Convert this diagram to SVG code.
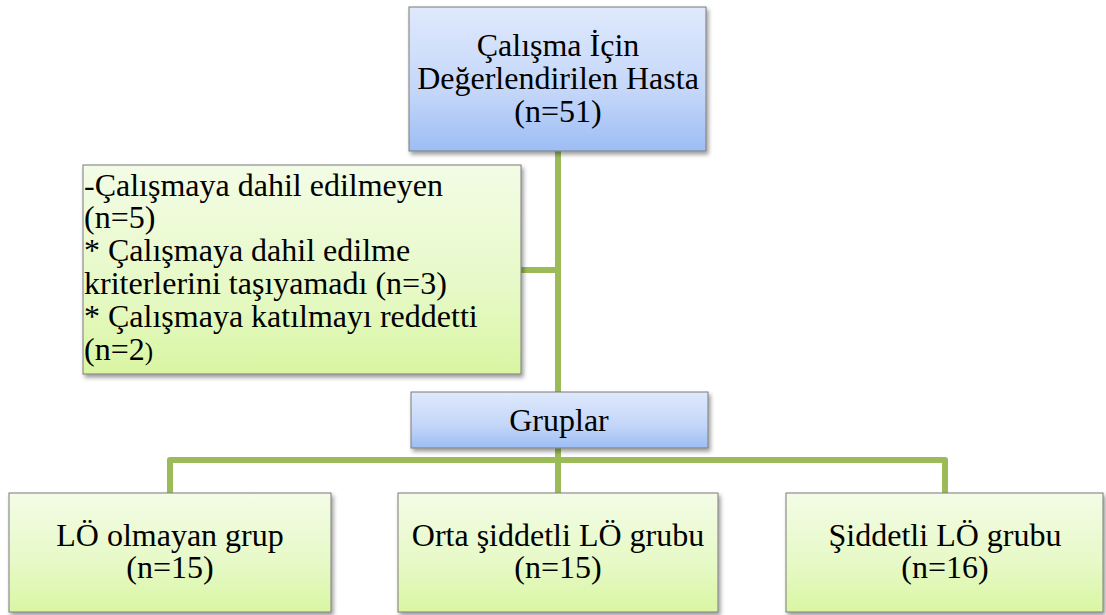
<svg xmlns="http://www.w3.org/2000/svg" width="1106" height="615" viewBox="0 0 1106 615">
<style>
.t{font-family:"Liberation Serif","Times New Roman",serif;font-size:32px;fill:#000}
.c{text-anchor:middle}
.blue{fill:url(#gb);stroke:#7a7a7a;stroke-width:1;filter:url(#sh)}
.green{fill:url(#gg);stroke:#7a7a7a;stroke-width:1;filter:url(#sh)}
.conn{fill:none;stroke:#9bbb59;stroke-width:6;stroke-linejoin:round}
</style>
<defs>
<linearGradient id="gb" x1="0" y1="0" x2="0" y2="1">
<stop offset="0" stop-color="#dfe9fc"/>
<stop offset="0.6" stop-color="#c3d6f9"/>
<stop offset="1" stop-color="#9dbdf4"/>
</linearGradient>
<linearGradient id="gg" x1="0" y1="0" x2="0" y2="1">
<stop offset="0" stop-color="#f3fce6"/>
<stop offset="0.6" stop-color="#e6f9c6"/>
<stop offset="1" stop-color="#d9f6a2"/>
</linearGradient>
<filter id="sh" x="-5%" y="-5%" width="115%" height="120%">
<feDropShadow dx="2" dy="3" stdDeviation="2" flood-color="#000" flood-opacity="0.4"/>
</filter>
</defs>
<g id="connectors">
<path class="conn" d="M558 151 V392"/>
<path class="conn" d="M521 270 H558"/>
<path class="conn" d="M558 448 V493"/>
<path class="conn" d="M170 493 V460 H945 V493"/>
</g>
<g id="node-top">
<rect class="blue" x="409" y="7" width="297" height="144"/>
<text class="t c" x="558" y="56">Çalışma İçin</text>
<text class="t c" x="558" y="89">Değerlendirilen Hasta</text>
<text class="t c" x="558" y="122">(n=51)</text>
</g>
<g id="node-excluded">
<rect class="green" x="83" y="165" width="438" height="209"/>
<text class="t" x="84" y="196">-Çalışmaya dahil edilmeyen</text>
<text class="t" x="84" y="228">(n=5)</text>
<text class="t" x="84" y="261">* Çalışmaya dahil edilme</text>
<text class="t" x="84" y="294">kriterlerini taşıyamadı (n=3)</text>
<text class="t" x="84" y="327">* Çalışmaya katılmayı reddetti</text>
<text class="t" x="84" y="360">(n=2<tspan font-size="25">)</tspan></text>
</g>
<g id="node-gruplar">
<rect class="blue" x="411" y="392" width="297" height="56"/>
<text class="t c" x="559" y="431">Gruplar</text>
</g>
<g id="node-lo-olmayan">
<rect class="green" x="9" y="493" width="322" height="119"/>
<text class="t c" x="170" y="546">LÖ olmayan grup</text>
<text class="t c" x="170" y="578">(n=15)</text>
</g>
<g id="node-orta">
<rect class="green" x="398" y="493" width="320" height="119"/>
<text class="t c" x="558" y="546">Orta şiddetli LÖ grubu</text>
<text class="t c" x="558" y="578">(n=15)</text>
</g>
<g id="node-siddetli">
<rect class="green" x="786" y="493" width="317" height="119"/>
<text class="t c" x="945" y="546">Şiddetli LÖ grubu</text>
<text class="t c" x="945" y="578">(n=16)</text>
</g>
</svg>
